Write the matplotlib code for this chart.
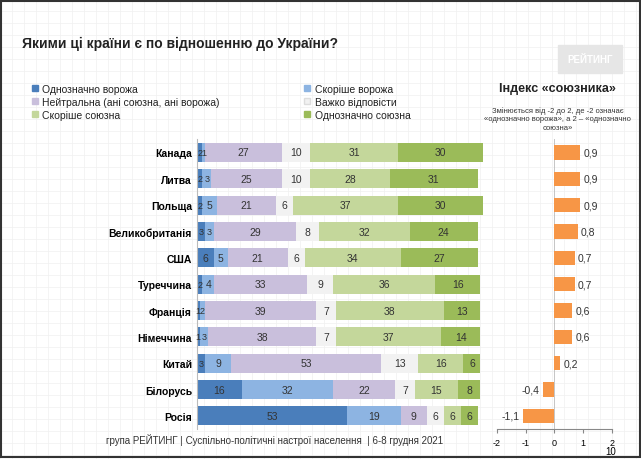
import matplotlib
matplotlib.use("Agg")
import matplotlib.pyplot as plt
import numpy as np

countries = ["Канада","Литва","Польща","Великобританія","США","Туреччина","Франція","Німеччина","Китай","Білорусь","Росія"]
hostile = [2,2,2,3,6,2,1,1,3,16,53]
rather_hostile = [1,3,5,3,5,4,2,3,9,32,19]
neutral = [27,25,21,29,21,33,39,38,53,22,9]
hard = [10,10,6,8,6,9,7,7,13,7,6]
rather_ally = [31,28,37,32,34,36,38,37,16,15,6]
ally = [30,31,30,24,27,16,13,14,6,8,6]
index = [0.9,0.9,0.9,0.8,0.7,0.7,0.6,0.6,0.2,-0.4,-1.1]
series = [hostile, rather_hostile, neutral, hard, rather_ally, ally]
names = ["Однозначно ворожа","Скоріше ворожа","Нейтральна (ані союзна, ані ворожа)","Важко відповісти","Скоріше союзна","Однозначно союзна"]
colors = ["#4a7ebb","#8db4e2","#c9bfdc","#f2f2f2","#c4d79b","#9bbb59"]

plt.rcParams['font.family'] = ['Liberation Sans','DejaVu Sans']
fig = plt.figure(figsize=(6.41,4.60), dpi=100)
fig.patch.set_facecolor("white")
fig.add_artist(plt.Rectangle((0.002,0.004),0.996,0.992, transform=fig.transFigure, fill=False, ec="#333333", lw=1.5))

bg = fig.add_axes([0,0,1,1], zorder=-5)
bg.set_xlim(0,641); bg.set_ylim(460,0)
for v in np.arange(0,641,12): bg.axvline(v, color="#f0f0f0", lw=0.5)
for v in np.arange(0,460,12): bg.axhline(v, color="#f0f0f0", lw=0.5)
bg.axis("off")

fig.text(0.035,0.895,"Якими ці країни є по відношенню до України?", fontsize=10, fontweight="bold", color="#222222")
fig.text(0.165,0.035,"група РЕЙТИНГ | Суспільно-політичні настрої населення  | 6-8 грудня 2021", fontsize=7, color="#333333")

ax = fig.add_axes([0.307,0.065,0.447,0.63])
y = np.arange(len(countries))
left = np.zeros(len(countries))
for s, c in zip(series, colors):
    s = np.array(s)
    ax.barh(y, s, left=left, color=c, height=0.72)
    for yi, (l, v) in enumerate(zip(left, s)):
        ax.text(l+v/2, yi, str(v), ha="center", va="center", fontsize=6.5 if v <= 3 else 7.5, color="#333333")
    left += s
ax.set_ylim(len(countries)-0.5, -0.5)
ax.set_xlim(0,101)
ax.set_yticks(y); ax.set_yticklabels(countries, fontsize=7.5, fontweight="bold")
ax.tick_params(length=0)
ax.set_xticks([])
for sp in ax.spines.values(): sp.set_visible(False)
ax.spines["left"].set_visible(True); ax.spines["left"].set_color("#bbbbbb")
ax.patch.set_alpha(0)

lx = [0.05,0.475]
ly = [0.80,0.772,0.744]
for i,(n,c) in enumerate(zip(names,colors)):
    col = i%2; row = i//2
    fig.add_artist(plt.Rectangle((lx[col],ly[row]),0.009,0.013, transform=fig.transFigure, color=c, ec="#dddddd" if c=="#f2f2f2" else c))
    fig.text(lx[col]+0.016, ly[row]-0.003, n, fontsize=7.5, color="#222222")

ax2 = fig.add_axes([0.775,0.065,0.18,0.63])
ax2.barh(y, index, color="#f79646", height=0.55)
for yi, v in enumerate(index):
    lab = f"{v:.1f}".replace(".",",")
    if v >= 0:
        ax2.text(v+0.12, yi, lab, va="center", ha="left", fontsize=7.5, color="#333333")
    else:
        ax2.text(v-0.12, yi, lab, va="center", ha="right", fontsize=7.5, color="#333333")
ax2.set_ylim(len(countries)-0.5, -0.5)
ax2.set_xlim(-2,2)
ax2.set_xticks([-2,-1,0,1,2]); ax2.set_xticklabels(["-2","-1","0","1","2"], fontsize=6.5)
ax2.set_yticks([])
for s in ["top","right","left"]: ax2.spines[s].set_visible(False)
ax2.spines["bottom"].set_color("#888888")
ax2.axvline(0, color="#bbbbbb", lw=0.6, zorder=0)
ax2.tick_params(axis="x", length=3, color="#888888")
ax2.patch.set_alpha(0)
fig.text(0.953,0.01,"10", fontsize=7, ha="center")

fig.text(0.87,0.80,"Індекс «союзника»", fontsize=9, fontweight="bold", ha="center", color="#222222")
fig.text(0.87,0.718,"Змінюється від -2 до 2, де -2 означає\n«однозначно ворожа», а 2 – «однозначно\nсоюзна»", fontsize=5.5, ha="center", color="#333333", linespacing=1.3)

fig.add_artist(plt.Rectangle((0.87,0.84),0.1,0.06, transform=fig.transFigure, color="#e6e6e6"))
fig.text(0.92,0.87,"РЕЙТИНГ", fontsize=7, fontweight="bold", color="white", ha="center", va="center")

fig.savefig("out.png", dpi=100)
